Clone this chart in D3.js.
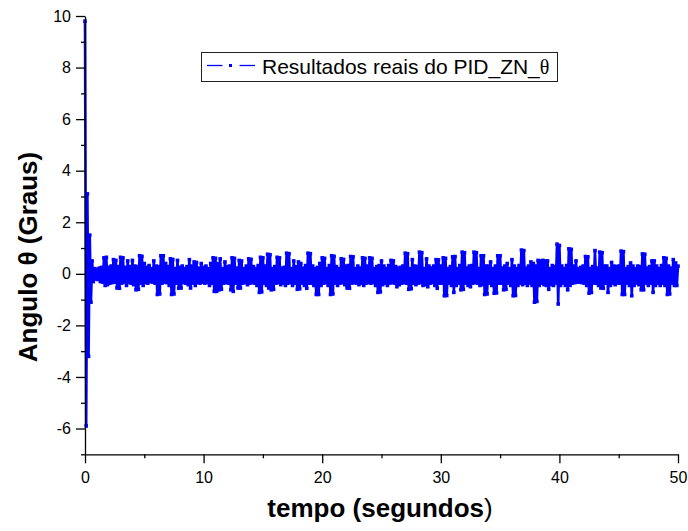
<!DOCTYPE html>
<html>
<head>
<meta charset="utf-8">
<script src="https://cdn.jsdelivr.net/npm/d3@7"></script>
<style>
  body { margin: 0; background: #fff; }
  svg { display: block; }
  text { font-family: "Liberation Sans", Arial, sans-serif; }
</style>
</head>
<body>
<svg id="chart" width="688" height="531"></svg>
<script>
// Measured pendulum angle (degrees), one sample every 0.1 s from t = 0 to 50 s
const angle = [
  9.8,-5.9,3.1,-3.2,1.5,-1.1,0.5,-0.3,0.2,-0.2,
  0.18,-0.22,0.22,-0.3,0.25,-0.32,0.62,-0.45,0.64,-0.42,
  0.25,-0.36,0.3,-0.34,0.55,-0.32,0.52,-0.55,0.28,-0.56,
  0.64,-0.36,0.62,-0.32,0.25,-0.45,0.5,-0.34,0.28,-0.36,
  0.52,-0.42,0.3,-0.62,0.28,-0.6,0.7,-0.36,0.68,-0.45,
  0.4,-0.34,0.25,-0.36,0.32,-0.3,0.2,-0.32,0.5,-0.36,
  0.3,-0.8,0.28,-0.78,0.7,-0.36,0.7,-0.32,0.4,-0.34,
  0.28,-0.45,0.58,-0.8,0.56,-0.78,0.2,-0.36,0.52,-0.56,
  0.25,-0.55,0.3,-0.34,0.2,-0.36,0.28,-0.42,0.55,-0.55,
  0.3,-0.36,0.46,-0.45,0.44,-0.34,0.22,-0.36,0.4,-0.32,
  0.25,-0.36,0.3,-0.34,0.2,-0.45,0.4,-0.36,0.62,-0.68,
  0.6,-0.68,0.4,-0.62,0.58,-0.6,0.2,-0.36,0.46,-0.34,
  0.28,-0.36,0.3,-0.62,0.62,-0.68,0.6,-0.36,0.22,-0.55,
  0.52,-0.55,0.5,-0.36,0.2,-0.34,0.3,-0.42,0.58,-0.36,
  0.56,-0.34,0.28,-0.36,0.2,-0.45,0.32,-0.72,0.64,-0.7,
  0.62,-0.36,0.3,-0.45,0.76,-0.55,0.74,-0.62,0.2,-0.6,
  0.28,-0.36,0.64,-0.34,0.62,-0.42,0.22,-0.36,0.25,-0.45,
  0.8,-0.36,0.78,-0.34,0.2,-0.45,0.5,-0.36,0.28,-0.6,
  0.46,-0.58,0.4,-0.36,0.22,-0.45,0.32,-0.56,0.8,-0.36,
  0.78,-0.36,0.3,-0.45,0.2,-0.8,0.25,-0.8,0.4,-0.45,
  0.62,-0.36,0.6,-0.34,0.2,-0.45,0.32,-0.8,0.7,-0.78,
  0.68,-0.36,0.28,-0.45,0.2,-0.36,0.58,-0.34,0.56,-0.42,
  0.3,-0.55,0.32,-0.56,0.67,-0.36,0.66,-0.34,0.2,-0.36,
  0.3,-0.42,0.22,-0.36,0.62,-0.45,0.6,-0.36,0.3,-0.34,
  0.62,-0.36,0.6,-0.34,0.2,-0.45,0.28,-0.72,0.32,-0.7,
  0.5,-0.42,0.3,-0.36,0.2,-0.45,0.32,-0.36,0.52,-0.34,
  0.5,-0.36,0.28,-0.5,0.22,-0.42,0.25,-0.36,0.3,-0.34,
  0.8,-0.36,0.78,-0.6,0.2,-0.58,0.55,-0.36,0.3,-0.42,
  0.28,-0.36,0.84,-0.34,0.82,-0.45,0.2,-0.42,0.58,-0.5,
  0.3,-0.36,0.22,-0.34,0.3,-0.45,0.55,-0.56,0.54,-0.36,
  0.3,-0.36,0.62,-0.85,0.6,-0.84,0.2,-0.36,0.28,-0.45,
  0.66,-0.72,0.67,-0.45,0.2,-0.36,0.32,-0.62,0.84,-0.6,
  0.82,-0.36,0.22,-0.45,0.3,-0.5,0.32,-0.36,0.84,-0.34,
  0.82,-0.36,0.2,-0.45,0.7,-0.42,0.7,-0.8,0.3,-0.78,
  0.3,-0.36,0.46,-0.45,0.2,-0.75,0.3,-0.74,0.7,-0.36,
  0.7,-0.36,0.22,-0.62,0.3,-0.6,0.4,-0.36,0.2,-0.45,
  0.55,-0.85,0.3,-0.84,0.2,-0.45,0.32,-0.36,0.92,-0.42,
  0.9,-0.36,0.22,-0.45,0.3,-0.36,0.46,-0.45,0.4,-1.1,
  0.3,-1.07,0.52,-0.45,0.5,-0.36,0.52,-0.42,0.5,-0.45,
  0.5,-0.6,0.2,-0.42,0.32,-0.45,0.28,-0.36,1.15,-1.17,
  1.1,-0.45,0.3,-0.36,0.2,-0.45,0.32,-0.62,0.97,-0.45,
  0.95,-0.36,0.3,-0.34,0.5,-0.32,0.2,-0.32,0.25,-0.34,
  0.3,-0.36,0.67,-0.45,0.66,-0.75,0.2,-0.72,0.28,-0.36,
  0.9,-0.36,0.22,-0.45,0.84,-0.55,0.82,-0.56,0.3,-0.36,
  0.3,-0.72,0.2,-0.45,0.44,-0.36,0.3,-0.42,0.28,-0.36,
  0.3,-0.36,0.88,-0.8,0.86,-0.8,0.2,-0.36,0.28,-0.45,
  0.42,-0.85,0.3,-0.45,0.2,-0.36,0.3,-0.42,0.28,-0.62,
  0.77,-0.62,0.76,-0.36,0.22,-0.45,0.28,-0.36,0.5,-0.72,
  0.5,-0.45,0.3,-0.36,0.2,-0.45,0.32,-0.36,0.62,-0.45,
  0.6,-0.8,0.3,-0.78,0.22,-0.36,0.55,-0.45,0.42,-0.45,
  0.3
];
const sampleStep = 0.1;

const xMajor = [0, 10, 20, 30, 40, 50];
const xMinor = [5, 15, 25, 35, 45];
const yMajor = [-6, -4, -2, 0, 2, 4, 6, 8, 10];
const yMinor = [-7, -5, -3, -1, 1, 3, 5, 7, 9];

const seriesName = "Resultados reais do PID_ZN_";
const seriesSymbol = "θ";

const svg = d3.select("#chart");
const x = d3.scaleLinear().domain([0, 50]).range([85, 678]);
const y = d3.scaleLinear().domain([-7, 10]).range([454.3, 16]);
const blue = "#0000ff";

// Data trace: line plus small square markers at each sample
const line = d3.line()
  .x((d, i) => x(i * sampleStep))
  .y(d => y(d));

svg.append("path")
  .datum(angle)
  .attr("d", line)
  .attr("fill", "none")
  .attr("stroke", blue)
  .attr("stroke-width", 2.6)
  .attr("stroke-linejoin", "round");

svg.append("g")
  .selectAll("rect")
  .data(angle)
  .join("rect")
  .attr("x", (d, i) => x(i * sampleStep) - 1.8)
  .attr("y", d => y(d) - 1.8)
  .attr("width", 3.6)
  .attr("height", 3.6)
  .attr("fill", blue);

// Axes
function styleAxis(g) {
  g.selectAll("path, line").attr("stroke", "#000").attr("stroke-width", 1.3);
  g.selectAll("text").attr("fill", "#000").attr("font-size", 16)
    .attr("font-family", "'Liberation Sans', Arial, sans-serif");
}

const xAxis = svg.append("g")
  .attr("transform", `translate(0,${y(-7)})`)
  .call(d3.axisBottom(x).tickValues(xMajor).tickSize(9).tickSizeOuter(0)
    .tickPadding(8).tickFormat(d => String(d)));
styleAxis(xAxis);

const xAxisMinor = svg.append("g")
  .attr("transform", `translate(0,${y(-7)})`)
  .call(d3.axisBottom(x).tickValues(xMinor).tickSize(4).tickSizeOuter(0).tickFormat(""));
styleAxis(xAxisMinor);
xAxisMinor.select(".domain").remove();

const yAxis = svg.append("g")
  .attr("transform", `translate(${x(0)},0)`)
  .call(d3.axisLeft(y).tickValues(yMajor).tickSize(9).tickSizeOuter(0)
    .tickPadding(5).tickFormat(d => String(d)));
styleAxis(yAxis);

const yAxisMinor = svg.append("g")
  .attr("transform", `translate(${x(0)},0)`)
  .call(d3.axisLeft(y).tickValues(yMinor).tickSize(4).tickSizeOuter(0).tickFormat(""));
styleAxis(yAxisMinor);
yAxisMinor.select(".domain").remove();

// Axis titles
const xTitle = svg.append("text")
  .attr("x", 380).attr("y", 517)
  .attr("text-anchor", "middle")
  .attr("font-size", 26)
  .attr("fill", "#000");
xTitle.append("tspan").attr("font-weight", "bold").text("tempo (segundos");
xTitle.append("tspan").attr("font-weight", "normal").text(")");

svg.append("text")
  .attr("transform", "translate(37,257) rotate(-90)")
  .attr("text-anchor", "middle")
  .attr("font-size", 26)
  .attr("font-weight", "bold")
  .attr("fill", "#000")
  .text("Angulo θ (Graus)");

// Legend
const legend = svg.append("g");
legend.append("rect")
  .attr("x", 201.5).attr("y", 52.5)
  .attr("width", 356).attr("height", 29)
  .attr("fill", "#fff")
  .attr("stroke", "#222")
  .attr("stroke-width", 1);
legend.append("line")
  .attr("x1", 207).attr("x2", 222.5).attr("y1", 65.5).attr("y2", 65.5)
  .attr("stroke", blue).attr("stroke-width", 1.3);
legend.append("line")
  .attr("x1", 239.5).attr("x2", 255).attr("y1", 65.5).attr("y2", 65.5)
  .attr("stroke", blue).attr("stroke-width", 1.3);
legend.append("rect")
  .attr("x", 229).attr("y", 64).attr("width", 3).attr("height", 3)
  .attr("fill", blue);
const legendText = legend.append("text")
  .attr("x", 262).attr("y", 73.5)
  .attr("font-size", 21)
  .attr("fill", "#000");
legendText.append("tspan").text(seriesName);
legendText.append("tspan")
  .attr("font-family", "'Liberation Serif', 'Times New Roman', serif")
  .attr("font-size", 20)
  .text(seriesSymbol);
</script>
</body>
</html>
